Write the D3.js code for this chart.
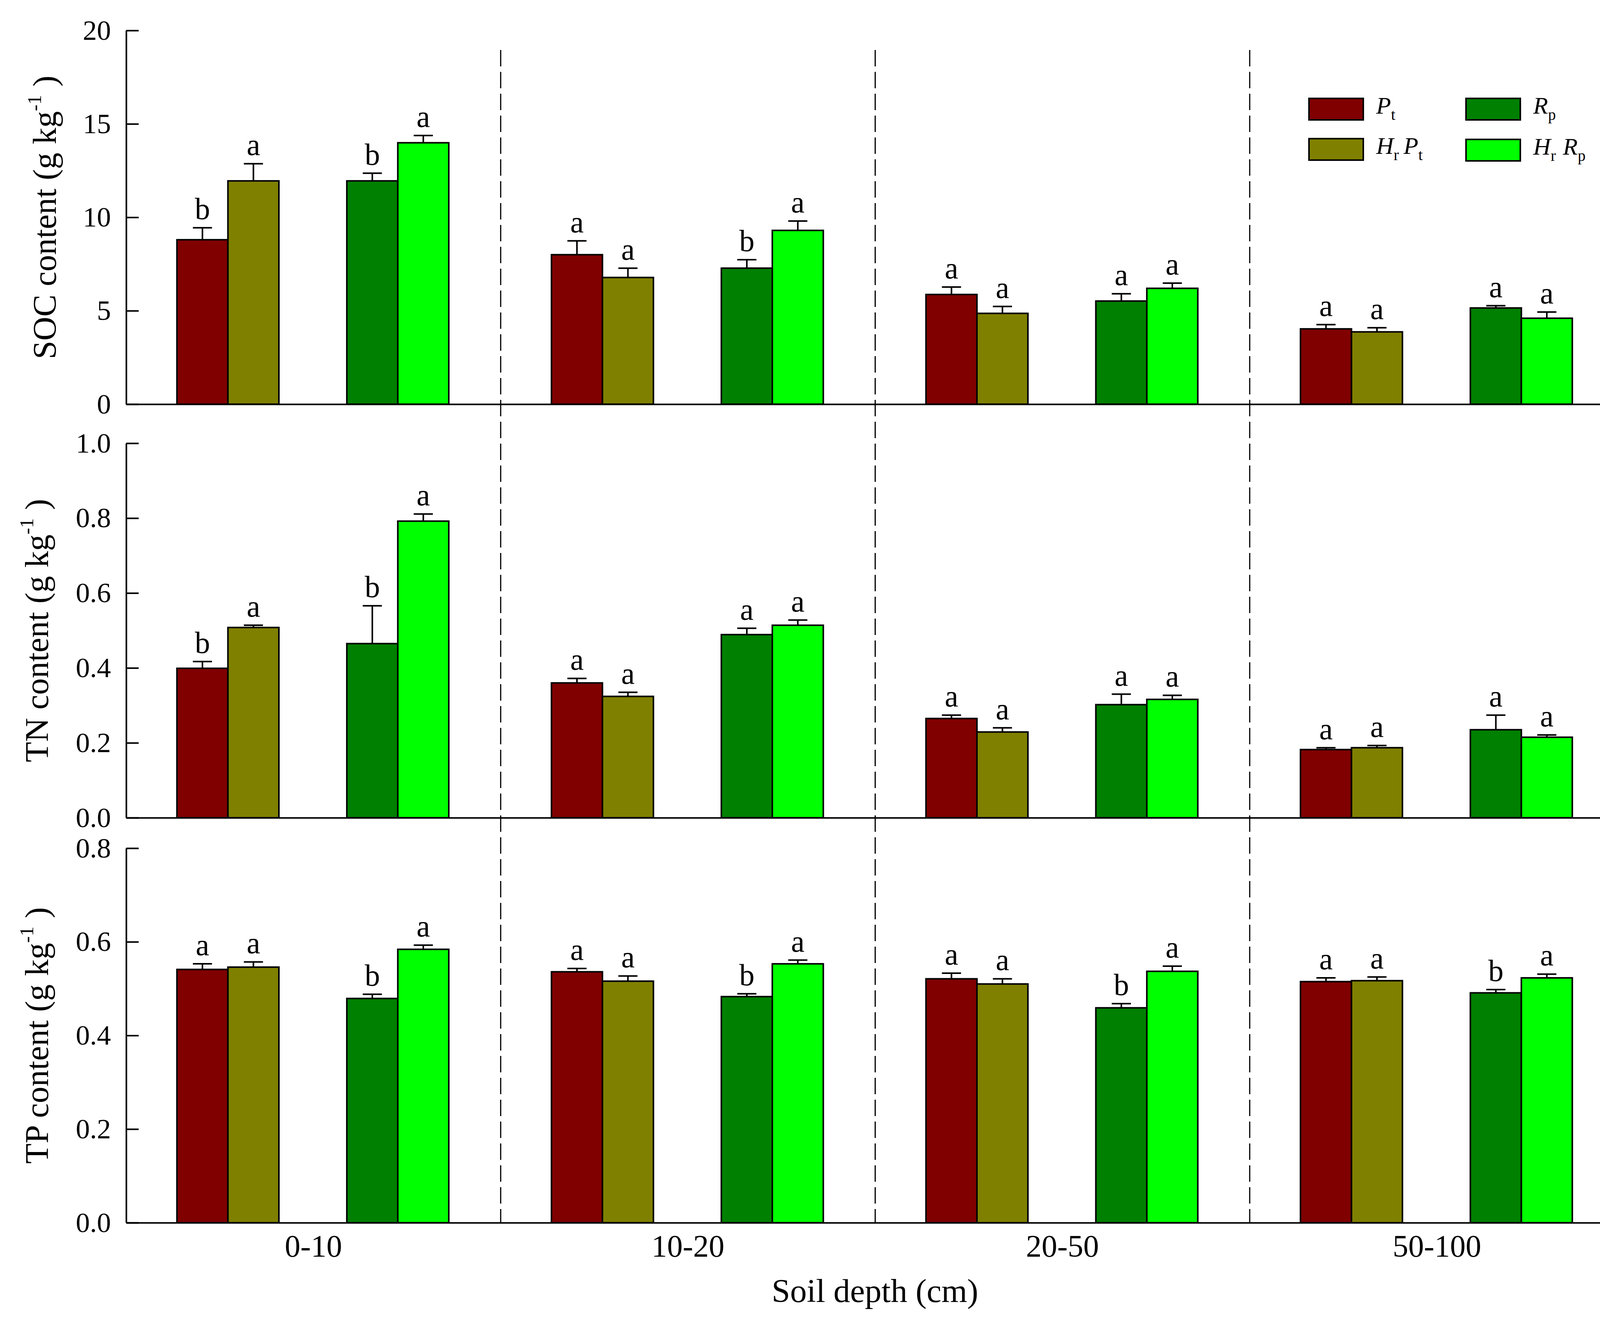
<!DOCTYPE html>
<html>
<head>
    <title>SOC, TN and TP by soil depth</title>
    <script src="https://d3js.org/d3.v7.min.js"></script>
    <style>
        body { margin: 0; background: #fff; }
        text { font-family: "Liberation Serif", "Times New Roman", serif; fill: #000; }
        .axis path, .axis line { stroke: #000; stroke-width: 4; }
        .ytick text { font-size: 72px; }
        .xtick text { font-size: 80px; }
        .bar { stroke: #000; stroke-width: 4; }
        .err { stroke: #000; stroke-width: 4; fill: none; }
        .sig { font-size: 78px; }
    </style>
</head>
<body>
    <svg width="4192" height="3375"></svg>
    <script>
        // soil depth groups and treatments
        const depths = ["0-10", "10-20", "20-50", "50-100"];
        const treatments = ["Pt", "HrPt", "Rp", "HrRp"];
        const colors = ["#800000", "#808000", "#008000", "#00ff00"];

        // means and SE, one row per treatment, one value per depth
        const socMean = [
            [8.80, 8.00, 5.87, 4.03],
            [11.95, 6.78, 4.86, 3.87],
            [11.95, 7.28, 5.52, 5.15],
            [13.99, 9.30, 6.20, 4.60]
        ];
        const socSE = [
            [0.64, 0.74, 0.40, 0.23],
            [0.92, 0.50, 0.37, 0.22],
            [0.41, 0.45, 0.39, 0.12],
            [0.39, 0.50, 0.28, 0.33]
        ];
        const socLetters = [
            ["b", "a", "a", "a"],
            ["a", "a", "a", "a"],
            ["b", "b", "a", "a"],
            ["a", "a", "a", "a"]
        ];

        const tnMean = [
            [0.399, 0.360, 0.265, 0.182],
            [0.508, 0.324, 0.229, 0.187],
            [0.465, 0.489, 0.302, 0.235],
            [0.792, 0.514, 0.316, 0.215]
        ];
        const tnSE = [
            [0.018, 0.012, 0.009, 0.005],
            [0.006, 0.011, 0.011, 0.006],
            [0.101, 0.017, 0.028, 0.039],
            [0.019, 0.014, 0.011, 0.006]
        ];
        const tnLetters = [
            ["b", "a", "a", "a"],
            ["a", "a", "a", "a"],
            ["b", "a", "a", "a"],
            ["a", "a", "a", "a"]
        ];

        const tpMean = [
            [0.541, 0.536, 0.521, 0.515],
            [0.546, 0.516, 0.510, 0.517],
            [0.479, 0.483, 0.459, 0.491],
            [0.584, 0.553, 0.537, 0.523]
        ];
        const tpSE = [
            [0.012, 0.007, 0.012, 0.008],
            [0.011, 0.011, 0.011, 0.008],
            [0.009, 0.006, 0.009, 0.007],
            [0.009, 0.008, 0.011, 0.008]
        ];
        const tpLetters = [
            ["a", "a", "a", "a"],
            ["a", "a", "a", "a"],
            ["b", "b", "b", "b"],
            ["a", "a", "a", "a"]
        ];

        const socTicks = [0, 5, 10, 15, 20];
        const tnTicks = [0, 0.2, 0.4, 0.6, 0.8, 1.0];
        const tpTicks = [0, 0.2, 0.4, 0.6, 0.8];

        const svg = d3.select("svg");
        svg.append("rect").attr("width", 4192).attr("height", 3375).attr("fill", "#fff");

        const x = d3.scaleBand().domain(depths).range([323, 4158]).padding(0);
        const bw = x.bandwidth();
        // bar offsets inside a depth group (fraction of the group width)
        const barOffset = [0.1356, 0.2717, 0.5892, 0.7253];
        const barW = 0.1361 * bw;

        const panels = [
            { mean: socMean, se: socSE, letters: socLetters, ticks: socTicks, top: 78, bottom: 1035,
              fmt: d3.format("d"), title: "SOC content (g kg", titleX: 143 },
            { mean: tnMean, se: tnSE, letters: tnLetters, ticks: tnTicks, top: 1135, bottom: 2094,
              fmt: d3.format(".1f"), title: "TN content (g kg", titleX: 123 },
            { mean: tpMean, se: tpSE, letters: tpLetters, ticks: tpTicks, top: 2172, bottom: 3131,
              fmt: d3.format(".1f"), title: "TP content (g kg", titleX: 123 }
        ];

        // dashed separators between depth groups
        svg.selectAll(".sep")
            .data(depths.slice(1))
            .enter().append("line")
            .attr("class", "sep")
            .attr("x1", d => x(d)).attr("x2", d => x(d))
            .attr("y1", 128).attr("y2", 3131)
            .attr("stroke", "#000")
            .attr("stroke-width", 3)
            .attr("stroke-dasharray", "42,14");

        panels.forEach((p, pi) => {
            const y = d3.scaleLinear()
                .domain([0, d3.max(p.ticks)])
                .range([p.bottom, p.top]);

            const g = svg.append("g");

            const rows = [];
            p.mean.forEach((row, ti) => row.forEach((v, di) => {
                rows.push({ t: ti, d: depths[di], v: v, se: p.se[ti][di], lab: p.letters[ti][di] });
            }));

            const bx = d => x(d.d) + barOffset[d.t] * bw;

            g.selectAll(".bar")
                .data(rows)
                .enter().append("rect")
                .attr("class", "bar")
                .attr("x", bx)
                .attr("y", d => y(d.v))
                .attr("width", barW)
                .attr("height", d => y(0) - y(d.v))
                .attr("fill", d => colors[d.t]);

            const err = g.selectAll(".errg")
                .data(rows)
                .enter().append("g");
            err.append("line")
                .attr("class", "err")
                .attr("x1", d => bx(d) + barW / 2).attr("x2", d => bx(d) + barW / 2)
                .attr("y1", d => y(d.v)).attr("y2", d => y(d.v + d.se));
            err.append("line")
                .attr("class", "err")
                .attr("x1", d => bx(d) + barW / 2 - 24.5).attr("x2", d => bx(d) + barW / 2 + 24.5)
                .attr("y1", d => y(d.v + d.se)).attr("y2", d => y(d.v + d.se));

            g.selectAll(".sig")
                .data(rows)
                .enter().append("text")
                .attr("class", "sig")
                .attr("x", d => bx(d) + barW / 2)
                .attr("y", d => y(d.v + d.se) - 22)
                .attr("text-anchor", "middle")
                .text(d => d.lab);

            // y axis with inward ticks
            g.append("g")
                .attr("class", "axis ytick")
                .attr("transform", "translate(323,0)")
                .call(d3.axisLeft(y).tickValues(p.ticks).tickFormat(p.fmt)
                    .tickSizeInner(-32).tickSizeOuter(0).tickPadding(39));

            // x axis line; labels only on the bottom panel
            const xa = d3.axisBottom(x).tickSize(0).tickPadding(30);
            if (pi < 2) xa.tickFormat("");
            g.append("g")
                .attr("class", "axis xtick")
                .attr("transform", `translate(0,${p.bottom})`)
                .call(xa);

            // y title with superscript
            const cy = (p.top + p.bottom) / 2;
            const t = g.append("text")
                .attr("transform", `translate(${p.titleX},${cy}) rotate(-90)`)
                .attr("text-anchor", "middle")
                .attr("font-size", 85);
            t.append("tspan").text(p.title);
            t.append("tspan").attr("font-size", 50).attr("dy", -38).text("-1");
            t.append("tspan").attr("dy", 38).text(" )");
        });

        svg.append("text")
            .attr("x", 2240).attr("y", 3334)
            .attr("text-anchor", "middle")
            .attr("font-size", 85)
            .text("Soil depth (cm)");

        // legend: [text, italic/subscript, extra gap before]
        const legendParts = [
            [["P", "i", 0], ["t", "s", 0]],
            [["H", "i", 0], ["r", "s", 0], ["P", "i", 12], ["t", "s", 0]],
            [["R", "i", 0], ["p", "s", 0]],
            [["H", "i", 0], ["r", "s", 0], ["R", "i", 18], ["p", "s", 0]]
        ];
        const legX = [3351, 3351, 3753, 3753];
        const legY = [252, 355, 252, 357];

        const leg = svg.selectAll(".leg")
            .data(treatments)
            .enter().append("g")
            .attr("class", "leg")
            .attr("transform", (d, i) => `translate(${legX[i]},${legY[i]})`);
        leg.append("rect")
            .attr("width", 139).attr("height", 55)
            .attr("fill", (d, i) => colors[i])
            .attr("stroke", "#000").attr("stroke-width", 4);
        leg.each(function (d, i) {
            const txt = d3.select(this).append("text")
                .attr("x", 172).attr("y", 39)
                .attr("font-size", 62);
            let shifted = false;
            legendParts[i].forEach(([s, kind, gap]) => {
                const ts = txt.append("tspan").text(s);
                if (gap) ts.attr("dx", gap);
                if (kind === "i") {
                    ts.attr("font-style", "italic");
                    if (shifted) { ts.attr("dy", -16); shifted = false; }
                } else {
                    ts.attr("font-size", 40).attr("dy", 16);
                    shifted = true;
                }
            });
        });
    </script>
</body>
</html>
